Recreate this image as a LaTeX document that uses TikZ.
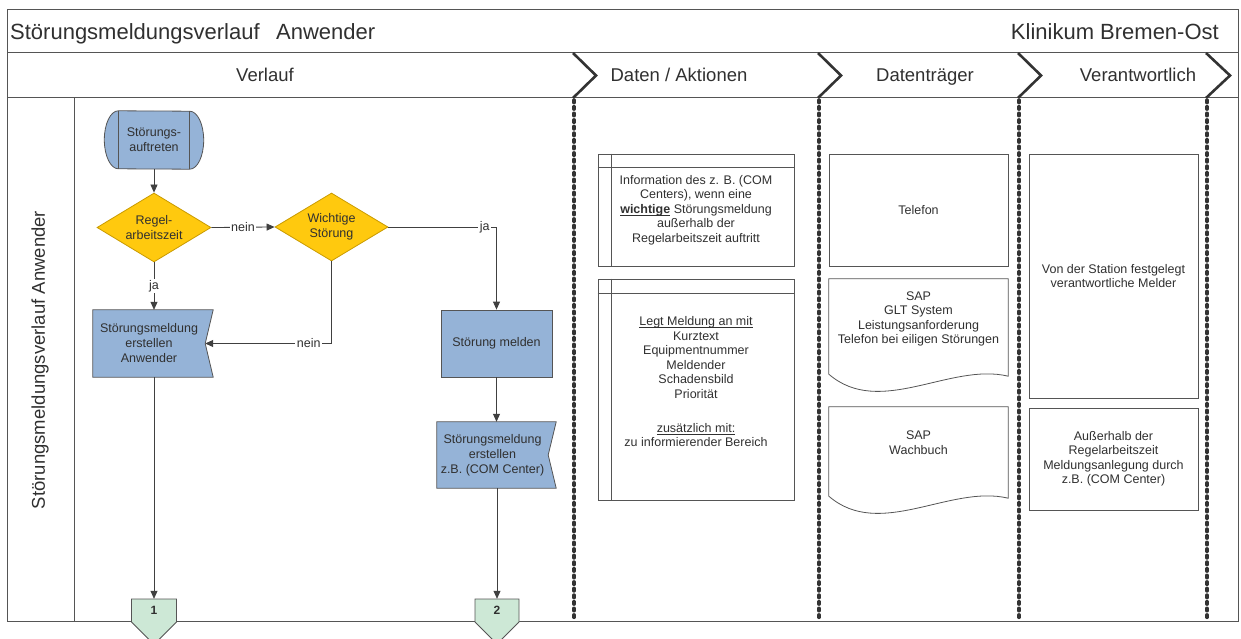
\documentclass[tikz,border=0pt]{standalone}
\usepackage{fontspec}
\setmainfont{Liberation Sans}
\usetikzlibrary{arrows.meta,shapes.geometric,backgrounds}
\definecolor{lineC}{HTML}{404040}
\definecolor{frameC}{HTML}{555555}
\definecolor{txtC}{HTML}{303030}
\definecolor{sepC}{HTML}{333333}
\definecolor{blueF}{HTML}{95B3D7}
\definecolor{yelF}{HTML}{FFC90E}
\definecolor{yelD}{HTML}{C99A00}
\definecolor{greenF}{HTML}{CDE8D6}
\newsavebox\myulbox
\newcommand\myul[1]{\sbox\myulbox{#1}\rlap{\rule[-2pt]{\wd\myulbox}{0.7pt}}\usebox\myulbox}
\tikzset{
  frame/.style={draw=frameC, line width=1pt},
  titlef/.style={font=\fontsize{22}{26}\selectfont, inner sep=0pt},
  headf/.style={font=\fontsize{18.5}{22}\selectfont, inner sep=0pt},
  holder/.style={inner sep=0pt, align=center, font=\fontsize{12.5}{15}\selectfont},
  procbox/.style={draw=frameC, fill=blueF, line width=0.8pt, inner sep=0pt, align=center, font=\fontsize{12.5}{15}\selectfont},
  shapeblue/.style={draw=frameC, fill=blueF, line width=0.8pt},
  decbox/.style={diamond, draw=yelD, fill=yelF, line width=0.8pt, aspect=1.65, minimum width=114pt, minimum height=69pt, inner sep=0pt, align=center, font=\fontsize{12.5}{15}\selectfont},
  arr/.style={draw=lineC, line width=0.8pt, -{Triangle[length=8pt,width=7pt]}},
  lbl/.style={fill=white, inner sep=1.5pt, font=\fontsize{12.5}{15}\selectfont},
  sepline/.style={draw=sepC, line width=3.4pt, dash pattern=on 2.6pt off 4pt, line cap=round},
  chev/.style={draw=sepC, line width=2.6pt},
  infobox/.style={draw=frameC, line width=0.8pt, inner sep=0pt, align=center, font=\fontsize{12.5}{14.5}\selectfont},
  infotext/.style={inner sep=0pt, align=center, font=\fontsize{12.5}{14.5}\selectfont},
  offpage/.style={draw=frameC, fill=greenF, line width=0.8pt},
  offtext/.style={inner sep=0pt, minimum width=45pt, minimum height=23pt, font=\fontsize{12}{14}\selectfont\bfseries},
}
\begin{document}
\begin{tikzpicture}[x=1pt, y=-1pt, every node/.append style={text=txtC}]
\useasboundingbox (0,0) rectangle (1241,639);
\clip (0,0) rectangle (1241,639);

% title and header texts
\node[titlef, anchor=base west] (title) at (10,40) {Störungsmeldungsverlauf\hspace{0.75em}Anwender};
\node[titlef, anchor=base east] (org) at (1219,40) {Klinikum Bremen-Ost};
\node[headf, anchor=base] (h1) at (265,82) {Verlauf};
\node[headf, anchor=base] (h2) at (679,82) {Daten / Aktionen};
\node[headf, anchor=base] (h3) at (925,82) {Datenträger};
\node[headf, anchor=base] (h4) at (1138,82) {Verantwortlich};
\node[headf, rotate=90] (lane) at (40,360) {Störungsmeldungsverlauf Anwender};

% flow nodes
\node[holder, minimum width=71pt, minimum height=58pt] (start) at (154,140) {Störungs-\\auftreten};
\node[decbox] (regel) at (154,227.5) {Regel-\\arbeitszeit};
\node[decbox, minimum width=113pt, minimum height=68pt] (wicht) at (331.5,227) {Wichtige\\Störung};
\node[holder, minimum width=112pt, minimum height=67pt] (anw) at (149,343.5) {Störungsmeldung\\erstellen\\Anwender};
\node[procbox, minimum width=111pt, minimum height=67pt] (melden) at (496.5,343.5) {Störung melden};
\node[holder, minimum width=111pt, minimum height=66pt] (com) at (492.5,455) {Störungsmeldung\\erstellen\\z.B. (COM Center)};
\coordinate (c1p) at (154,610.5);
\coordinate (c2p) at (497,610.5);

% data / actions
\node[infobox, minimum width=196pt, minimum height=112pt] (d1) at (696,210) {Information des z. B. (COM\\Centers), wenn eine\\\textbf{\myul{wichtige}} Störungsmeldung\\außerhalb der\\Regelarbeitszeit auftritt};
\node[infobox, minimum width=196pt, minimum height=221pt] (d2) at (696,389.5) {};
\node[infotext] (d2t) at (696,382) {\myul{Legt Meldung an mit}\\Kurztext\\Equipmentnummer\\Meldender\\Schadensbild\\Priorität\\[19.5pt]\myul{zusätzlich mit:}\\zu informierender Bereich};

% data carriers
\node[infobox, minimum width=179pt, minimum height=112pt] (t1) at (918.5,210) {Telefon};
\node[infotext, minimum width=179pt, minimum height=97pt] (doc2) at (918.5,327.5) {};
\node[infotext] (doc2t) at (918.5,319) {SAP\\GLT System\\Leistungsanforderung\\Telefon bei eiligen Störungen};
\node[infotext, minimum width=179pt, minimum height=91pt] (doc3) at (918.5,452.5) {};
\node[infotext] (doc3t) at (918.5,442.5) {SAP\\Wachbuch};

% responsible
\node[infobox, minimum width=169pt, minimum height=244pt] (v1) at (1113.5,276) {Von der Station festgelegt\\verantwortliche Melder};
\node[infobox, minimum width=169pt, minimum height=102pt] (v2) at (1113.5,459) {Außerhalb der\\Regelarbeitszeit\\Meldungsanlegung durch\\z.B. (COM Center)};

% background layer: frame and custom shapes
\begin{scope}[on background layer]
  \draw[frame] (7,10) rectangle (1238,621);
  \draw[frame] (7,53) -- (1238,53);
  \draw[frame] (7,98) -- (1238,98);
  \draw[frame] (74,98) -- (74,621);
  % terminal
  \draw[shapeblue] (start.north west) arc[start angle=90, end angle=270, x radius=14pt, y radius=29pt] -- (start.south east) arc[start angle=-90, end angle=90, x radius=14pt, y radius=29pt] -- cycle;
  \draw[shapeblue] (start.north west) -- (start.south west);
  \draw[shapeblue] (start.north east) -- (start.south east);
  % notched process boxes
  \draw[shapeblue] (anw.north west) -- ([xshift=8pt]anw.north east) -- (anw.east) -- ([xshift=8pt]anw.south east) -- (anw.south west) -- cycle;
  \draw[shapeblue] (com.north west) -- ([xshift=8pt]com.north east) -- (com.east) -- ([xshift=8pt]com.south east) -- (com.south west) -- cycle;
  % inner lines of data boxes
  \draw[frameC, line width=0.8pt] ([xshift=14pt]d1.north west) -- ([xshift=14pt]d1.south west);
  \draw[frameC, line width=0.8pt] ([yshift=-14pt]d1.north west) -- ([yshift=-14pt]d1.north east);
  \draw[frameC, line width=0.8pt] ([xshift=14pt]d2.north west) -- ([xshift=14pt]d2.south west);
  \draw[frameC, line width=0.8pt] ([yshift=-15pt]d2.north west) -- ([yshift=-15pt]d2.north east);
  % documents
  \draw[frameC, line width=0.8pt, fill=white] (doc2.north west) -- (doc2.north east) -- (doc2.south east) .. controls +(-58,-14) and +(51,44) .. ([yshift=2pt]doc2.south west) -- cycle;
  \draw[frameC, line width=0.8pt, fill=white] (doc3.north west) -- (doc3.north east) -- (doc3.south east) .. controls +(-58,-14) and +(51,44) .. ([yshift=2pt]doc3.south west) -- cycle;
  % off-page connectors
  \draw[offpage] ([shift={(-22.5,-11.5)}]c1p) -- ++(45,0) -- ++(0,23) -- ++(-22.5,22.5) -- ++(-22.5,-22.5) -- cycle;
  \draw[offpage] ([shift={(-22,-11.5)}]c2p) -- ++(44,0) -- ++(0,23) -- ++(-22,22) -- ++(-22,-22) -- cycle;
\end{scope}

\node[offtext] (c1) at (c1p) {1};
\node[offtext, minimum width=44pt] (c2) at (c2p) {2};

% separators and chevrons
\draw[sepline] (574,100) -- (574,621);
\draw[sepline] (819,100) -- (819,621);
\draw[sepline] (1019,100) -- (1019,621);
\draw[sepline] (1207,100) -- (1207,621);
\draw[chev] (573,53) -- (596,75.5) -- (573,98);
\draw[chev] (818,53) -- (841,75.5) -- (818,98);
\draw[chev] (1018,53) -- (1041,75.5) -- (1018,98);
\draw[chev] (1206,53) -- (1230,75.5) -- (1206,98);

% connectors
\draw[arr] (start.south) -- (regel.north);
\draw[arr] (regel.east) -- node[lbl]{nein} (wicht.west);
\draw[arr] (regel.south) -- node[lbl]{ja} (regel.south |- anw.north);
\draw[arr] (wicht.east) -- node[lbl, pos=0.89]{ja} (melden.north |- wicht.east) -- (melden.north);
\draw[arr] (wicht.south) -- (wicht.south |- anw.east) -- node[lbl, pos=0.18]{nein} (anw.east);
\draw[arr] (melden.south) -- (melden.south |- com.north);
\draw[arr] (c1.north |- anw.south) -- (c1.north);
\draw[arr] (c2.north |- com.south) -- (c2.north);
\end{tikzpicture}
\end{document}
